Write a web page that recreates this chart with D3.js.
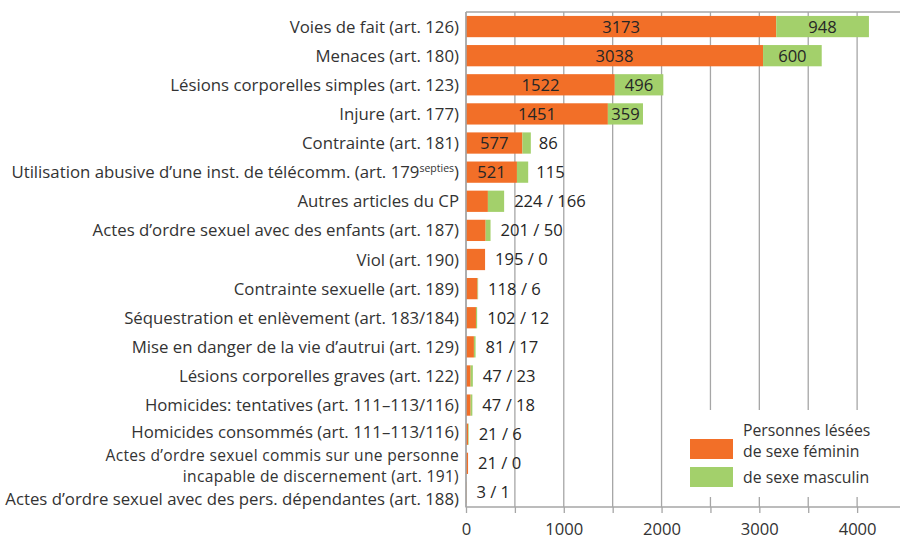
<!DOCTYPE html>
<html><head><meta charset="utf-8">
<script src="https://cdn.jsdelivr.net/npm/d3@7"></script>
<style>
html,body{margin:0;padding:0;background:#fff;}
svg{display:block;font-family:"Open Sans",sans-serif;}
</style></head>
<body><svg id="c" width="900" height="539"></svg>
<script>
const categories = [
  ["Voies de fait (art. 126)"],
  ["Menaces (art. 180)"],
  ["Lésions corporelles simples (art. 123)"],
  ["Injure (art. 177)"],
  ["Contrainte (art. 181)"],
  ["Utilisation abusive d’une inst. de télécomm. (art. 179", "septies", ")"],
  ["Autres articles du CP"],
  ["Actes d’ordre sexuel avec des enfants (art. 187)"],
  ["Viol (art. 190)"],
  ["Contrainte sexuelle (art. 189)"],
  ["Séquestration et enlèvement (art. 183/184)"],
  ["Mise en danger de la vie d’autrui (art. 129)"],
  ["Lésions corporelles graves (art. 122)"],
  ["Homicides: tentatives (art. 111–113/116)"],
  ["Homicides consommés (art. 111–113/116)"],
  ["Actes d’ordre sexuel commis sur une personne", "incapable de discernement (art. 191)"],
  ["Actes d’ordre sexuel avec des pers. dépendantes (art. 188)"]
];
const female = [3173,3038,1522,1451,577,521,224,201,195,118,102,81,47,47,21,21,3];
const male   = [948,600,496,359,86,115,166,50,0,6,12,17,23,18,6,0,1];
// label mode: 2 = both inside, 1 = female inside / male outside, 0 = "f / m" outside
const labelMode = [2,2,2,2,1,1,0,0,0,0,0,0,0,0,0,0,0];
const xTicks = [0,1000,2000,3000,4000];
const gridTicks = [0,500,1000,1500,2000,2500,3000,3500,4000,4500];
const legendTitle = "Personnes lésées";
const legendLabels = ["de sexe féminin","de sexe masculin"];

const ORANGE = "#F26F28", GREEN = "#A3D06B", GRID = "#A6A6A6", TXT = "#333333";
const svg = d3.select("#c");
const pL = 466, pR = 906, pT = 12, pB = 507;
const x = d3.scaleLinear().domain([0,4500]).range([pL,pR]);
const y = d3.scaleBand().domain(d3.range(categories.length)).range([pT,pB]).paddingInner(0.27).paddingOuter(0.135);

// grid
svg.append("g").selectAll("line").data(gridTicks).join("line")
  .attr("x1",d=>x(d)).attr("x2",d=>x(d)).attr("y1",pT).attr("y2",pB)
  .attr("stroke",GRID).attr("stroke-width",1.3);
svg.append("line").attr("x1",pL).attr("x2",900).attr("y1",pT).attr("y2",pT).attr("stroke",GRID).attr("stroke-width",1.3);

// bars
const bars = svg.append("g");
categories.forEach((c,i)=>{
  bars.append("rect").attr("x",x(0)).attr("y",y(i)).attr("width",x(female[i])-x(0)).attr("height",y.bandwidth()).attr("fill",ORANGE);
  bars.append("rect").attr("x",x(female[i])).attr("y",y(i)).attr("width",x(female[i]+male[i])-x(female[i])).attr("height",y.bandwidth()).attr("fill",GREEN);
});

// value labels
const vl = svg.append("g").attr("font-size",16.6).attr("fill","#262626");
categories.forEach((c,i)=>{
  const cy = y(i)+y.bandwidth()/2;
  const end = x(female[i]+male[i]);
  if(labelMode[i]>=1){
    vl.append("text").attr("x",(x(0)+x(female[i]))/2).attr("y",cy).attr("dy","0.36em").attr("text-anchor","middle").text(female[i]);
  }
  if(labelMode[i]===2){
    vl.append("text").attr("x",(x(female[i])+end)/2).attr("y",cy).attr("dy","0.36em").attr("text-anchor","middle").text(male[i]);
  } else if(labelMode[i]===1){
    vl.append("text").attr("x",end+8).attr("y",cy).attr("dy","0.36em").text(male[i]);
  } else {
    vl.append("text").attr("x",end+10).attr("y",cy).attr("dy","0.36em").text(female[i]+" / "+male[i]);
  }
});

// axes lines
svg.append("line").attr("x1",pL).attr("x2",pL).attr("y1",pT).attr("y2",pB+0.5).attr("stroke",GRID).attr("stroke-width",1.5);
const xAxis = d3.axisBottom(x).tickValues(gridTicks).tickSize(6).tickFormat(d=>xTicks.includes(d)?d:"");
const ax = svg.append("g").attr("transform",`translate(0,${pB})`).call(xAxis);
ax.select(".domain").attr("stroke",GRID).attr("stroke-width",1.5).attr("d",`M${pL},0H900`);
ax.selectAll(".tick line").attr("stroke",GRID).attr("stroke-width",1.3);
ax.selectAll(".tick text").attr("font-size",16.6).attr("font-family","Open Sans").attr("fill",TXT).attr("dy","1.12em");

// category labels
const cl = svg.append("g").attr("font-size",16.8).attr("fill",TXT).attr("text-anchor","end");
const n = categories.length;
categories.forEach((c,i)=>{
  const cy = y(i)+y.bandwidth()/2;
  if(c.length===3){
    const t = cl.append("text").attr("x",459).attr("y",cy).attr("dy","0.36em");
    t.append("tspan").text(c[0]);
    t.append("tspan").attr("font-size",10.5).attr("dy","-0.6em").text(c[1]);
    t.append("tspan").attr("dy","0.35em").text(c[2]);
  } else if(c.length===2){
    const t = cl.append("text").attr("font-size",15.6).attr("letter-spacing",0.3).attr("y",cy-8.2).attr("dy","0.36em");
    t.append("tspan").attr("x",459).text(c[0]);
    t.append("tspan").attr("x",459).attr("dy",21.4).text(c[1]);
  } else {
    const off = i===n-1 ? 6.5 : (i===n-3 ? -2 : 0);
    cl.append("text").attr("x",459).attr("y",cy+off).attr("dy","0.36em").text(c[0]);
  }
});

// legend
const lg = svg.append("g");
lg.append("rect").attr("x",684).attr("y",410).attr("width",216).attr("height",87).attr("fill","#fff");
lg.append("rect").attr("x",690).attr("y",439).attr("width",43).attr("height",20).attr("fill",ORANGE);
lg.append("rect").attr("x",690).attr("y",467).attr("width",43).attr("height",20).attr("fill",GREEN);
const lt = lg.append("g").attr("font-size",15.8).attr("fill",TXT);
lt.append("text").attr("x",743).attr("y",436).text(legendTitle);
lt.append("text").attr("x",743).attr("y",457).text(legendLabels[0]);
lt.append("text").attr("x",743).attr("y",483).text(legendLabels[1]);
</script></body></html>
